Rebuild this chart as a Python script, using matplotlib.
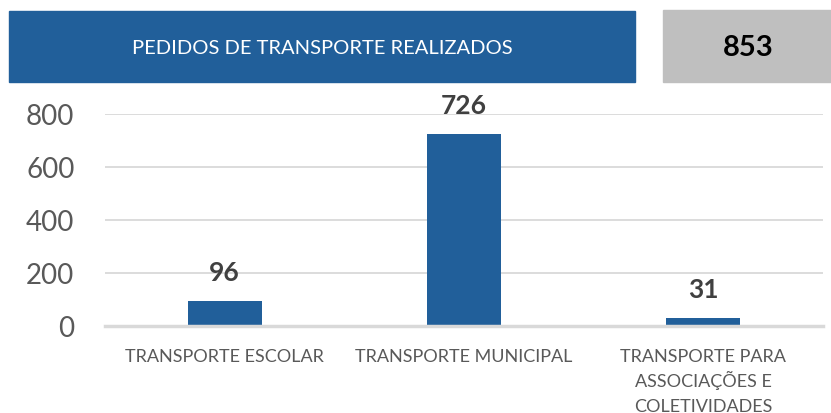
import numpy as np
import matplotlib.pyplot as plt
from matplotlib.patches import Rectangle

# pedidos por tipo de transporte
categorias = ["TRANSPORTE ESCOLAR", "TRANSPORTE MUNICIPAL",
              "TRANSPORTE PARA\nASSOCIAÇÕES E\nCOLETIVIDADES"]
pedidos = [96, 726, 31]
titulo = "PEDIDOS DE TRANSPORTE REALIZADOS"
yticks = [0, 200, 400, 600, 800]

azul = "#215F9A"
cinza = "#BFBFBF"
cor_texto = "#595959"
fonte = "Lato"

W, H = 831, 414
fig = plt.figure(figsize=(W / 100, H / 100), dpi=100)

# cabecalho: caixa azul com titulo e caixa cinza com o total
fig.patches.append(Rectangle((9 / W, 1 - 83 / H), (635 - 9) / W, 71 / H,
                             transform=fig.transFigure, color=azul, zorder=0))
fig.patches.append(Rectangle((663 / W, 1 - 83 / H), (W - 663) / W, 72 / H,
                             transform=fig.transFigure, color=cinza, zorder=0))
fig.text(322 / W, 1 - 48 / H, titulo, color="white", fontsize=14.5,
         family=fonte, ha="center", va="center")
fig.text(748 / W, 1 - 48 / H, str(sum(pedidos)), color="black", fontsize=21,
         family=fonte, fontweight="bold", ha="center", va="center")

ax = fig.add_axes([105 / W, (H - 327) / H, (823 - 105) / W, 212 / H])
x = np.arange(len(categorias))
barras = ax.bar(x, pedidos, width=0.31, color=azul, zorder=3)

for b, v in zip(barras, pedidos):
    ax.annotate(str(v), (b.get_x() + b.get_width() / 2, v),
                xytext=(0, 12), textcoords="offset points",
                ha="center", va="bottom", fontsize=19, fontweight="bold",
                family=fonte, color="#404040")

# rotulos das categorias, uma linha de cada vez para espacamento regular
for xi, cat in zip(x, categorias):
    for i, linha in enumerate(cat.split("\n")):
        ax.annotate(linha, (xi, 0), xytext=(0, -25.5 - i * 17.8),
                    textcoords="offset points", ha="center", va="baseline",
                    fontsize=13, family=fonte, color=cor_texto,
                    annotation_clip=False)

ax.set_xlim(-0.5, len(categorias) - 0.5)
ax.set_ylim(0, 800)
ax.set_yticks(yticks)
ax.set_xticks([])
for lbl in ax.get_yticklabels():
    lbl.set_fontsize(20)
    lbl.set_family(fonte)
    lbl.set_color(cor_texto)

ax.tick_params(axis="y", length=0, pad=22)
ax.grid(axis="y", color="#D9D9D9", linewidth=1.3, zorder=0)
for s in ["top", "right", "left"]:
    ax.spines[s].set_visible(False)
ax.spines["bottom"].set_color("#D9D9D9")
ax.spines["bottom"].set_linewidth(2.5)
ax.spines["bottom"].set_zorder(4)

fig.savefig("out.png", dpi=100)
